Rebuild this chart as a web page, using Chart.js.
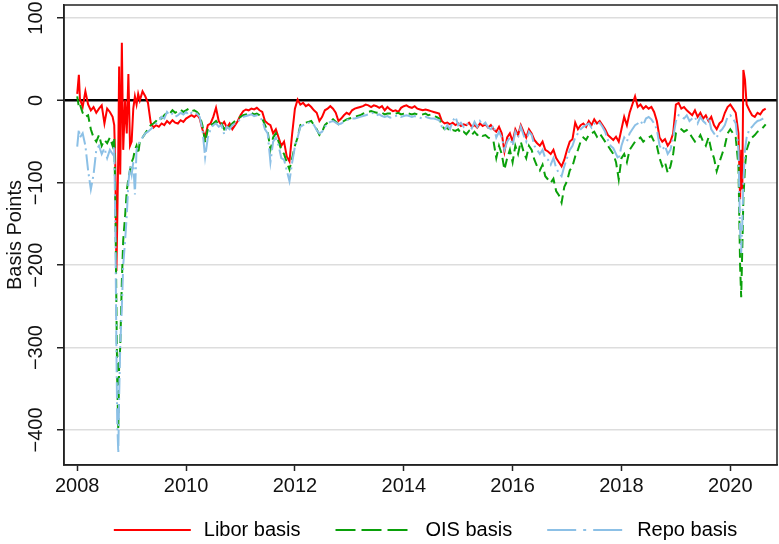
<!DOCTYPE html>
<html><head><meta charset="utf-8">
<script src="https://cdn.jsdelivr.net/npm/chart.js@4/dist/chart.umd.min.js"></script>
<style>html,body{margin:0;padding:0;background:#fff}</style>
</head><body>
<canvas id="c" width="779" height="544"></canvas>
<script>
// ---- data (decimal years) ----
const dates = [
2008.00,2008.03,2008.05,2008.10,2008.15,2008.20,2008.25,2008.30,2008.35,2008.40,2008.45,2008.50,2008.55,2008.60,2008.65,
2008.68,2008.70,2008.72,2008.735,2008.755,2008.77,2008.79,2008.82,2008.845,2008.88,2008.91,2008.94,2008.97,2009.00,2009.03,2009.06,2009.09,2009.12,2009.15,2009.20,2009.25,2009.30,2009.35,
2009.40,2009.45,2009.50,2009.55,2009.60,2009.65,2009.70,2009.75,2009.80,2009.85,2009.90,2009.95,
2010.00,2010.05,2010.10,2010.15,2010.20,2010.25,2010.30,2010.35,2010.40,2010.45,2010.50,2010.55,2010.60,2010.65,2010.70,2010.75,2010.80,2010.85,2010.90,2010.95,2011.00,
2011.05,2011.10,2011.15,2011.20,2011.25,2011.30,2011.35,2011.40,2011.45,2011.50,2011.55,2011.60,2011.65,2011.70,2011.75,2011.80,2011.85,2011.90,2011.95,2012.00,
2012.05,2012.10,2012.15,2012.20,2012.25,2012.30,2012.35,2012.40,2012.45,2012.50,2012.55,2012.60,2012.65,2012.70,2012.75,2012.80,2012.85,2012.90,2012.95,2013.00,
2013.05,2013.10,2013.15,2013.20,2013.25,2013.30,2013.35,2013.40,2013.45,2013.50,2013.55,2013.60,2013.65,2013.70,2013.75,2013.80,2013.85,2013.90,2013.95,2014.00,
2014.05,2014.10,2014.15,2014.20,2014.25,2014.30,2014.35,2014.40,2014.45,2014.50,2014.55,2014.60,2014.65,2014.70,2014.75,2014.80,2014.85,2014.90,2014.95,2015.00,
2015.05,2015.10,2015.15,2015.20,2015.25,2015.30,2015.35,2015.40,2015.45,2015.50,2015.55,2015.60,2015.65,2015.70,2015.75,2015.80,2015.85,2015.90,2015.95,2016.00,
2016.05,2016.10,2016.15,2016.20,2016.25,2016.30,2016.35,2016.40,2016.45,2016.50,2016.55,2016.60,2016.65,2016.70,2016.75,2016.80,2016.85,2016.90,2016.95,2017.00,
2017.05,2017.10,2017.15,2017.20,2017.25,2017.30,2017.35,2017.40,2017.45,2017.50,2017.55,2017.60,2017.65,2017.70,2017.75,2017.80,2017.85,2017.90,2017.95,2018.00,
2018.05,2018.10,2018.15,2018.20,2018.25,2018.30,2018.35,2018.40,2018.45,2018.50,2018.55,2018.60,2018.65,2018.70,2018.75,2018.80,2018.85,2018.90,2018.95,2019.00,
2019.05,2019.10,2019.15,2019.20,2019.25,2019.30,2019.35,2019.40,2019.45,2019.50,2019.55,2019.60,2019.65,2019.70,2019.75,2019.80,2019.85,2019.90,2019.95,2020.00,2020.05,2020.10,
2020.15,2020.18,2020.20,2020.22,2020.24,2020.27,2020.30,2020.35,2020.40,2020.45,2020.50,2020.55,2020.60,2020.65
];
const libor = [
8,31,2,-8,11,-5,-12,-8,-15,-10,-6,-28,-10,-14,-20,
-30,-80,-207,-150,-60,41,-90,70,-60,0,-40,32,-55,-50,-10,5,-5,8,0,11,5,-3,-27,
-33,-30,-32,-28,-30,-25,-28,-24,-27,-28,-24,-26,
-22,-20,-18,-20,-17,-22,-35,-45,-30,-28,-20,-9,-25,-30,-26,-33,-28,-35,-30,-25,-18,
-13,-11,-12,-10,-11,-9,-12,-14,-25,-28,-30,-40,-35,-45,-55,-50,-68,-74,-40,-10,
1,-5,-3,-7,-5,-8,-12,-15,-25,-20,-12,-10,-7,-10,-15,-25,-22,-18,-15,-17,
-12,-10,-9,-8,-7,-5,-6,-8,-6,-7,-9,-7,-12,-8,-11,-13,-12,-14,-9,-7,
-6,-8,-9,-7,-10,-11,-12,-11,-12,-13,-14,-15,-16,-25,-28,-27,-29,-27,-30,-28,
-31,-29,-30,-27,-32,-30,-33,-28,-31,-29,-33,-30,-35,-38,-32,-40,-62,-45,-40,-50,
-35,-42,-30,-38,-45,-35,-40,-48,-52,-55,-50,-60,-62,-65,-60,-70,-75,-80,-72,-60,
-50,-47,-27,-35,-30,-28,-32,-25,-30,-23,-28,-25,-30,-35,-42,-45,-48,-44,-50,-35,
-20,-30,-15,-5,5,-8,-5,-10,-7,-10,-8,-14,-25,-45,-50,-47,-55,-50,-40,-5,
-3,-10,-8,-12,-15,-18,-12,-20,-15,-22,-18,-25,-20,-30,-35,-28,-25,-15,-8,-5,-10,-15,
-40,-120,-60,-108,37,25,-5,-12,-18,-20,-15,-17,-12,-10
];
const ois = [
5,-8,-5,-15,-20,-18,-35,-45,-50,-42,-55,-48,-52,-45,-55,
-45,-120,-250,-340,-400,-320,-300,-220,-170,-140,-110,-95,-85,-75,-70,-60,-55,-65,-50,-45,-40,-35,-30,
-28,-25,-20,-22,-18,-15,-16,-12,-15,-13,-11,-14,
-12,-10,-13,-12,-14,-18,-30,-51,-35,-30,-28,-25,-30,-28,-35,-30,-32,-28,-25,-22,-20,
-18,-17,-16,-15,-17,-16,-18,-22,-30,-38,-60,-45,-40,-50,-60,-65,-75,-84,-70,-55,
-45,-30,-28,-27,-26,-25,-30,-35,-42,-38,-30,-27,-25,-23,-26,-29,-27,-25,-23,-22,
-21,-20,-19,-18,-16,-15,-14,-13,-14,-15,-14,-15,-17,-16,-16,-17,-16,-15,-17,-16,
-15,-16,-17,-16,-17,-18,-17,-16,-18,-17,-19,-20,-22,-30,-35,-33,-38,-36,-37,-35,
-40,-38,-41,-37,-42,-38,-42,-40,-43,-42,-45,-47,-50,-70,-55,-65,-84,-70,-60,-75,
-55,-65,-50,-62,-70,-55,-60,-72,-80,-85,-78,-92,-96,-100,-95,-110,-115,-124,-105,-98,
-85,-80,-68,-60,-50,-45,-48,-42,-40,-38,-44,-40,-45,-50,-55,-60,-65,-75,-96,-70,
-65,-75,-60,-55,-50,-48,-45,-50,-47,-45,-43,-50,-55,-70,-80,-75,-88,-80,-65,-40,
-37,-35,-38,-36,-40,-45,-50,-48,-42,-50,-55,-45,-60,-70,-86,-75,-65,-55,-40,-35,-40,-45,
-80,-200,-239,-180,-120,-80,-60,-50,-45,-42,-38,-36,-33,-29
];
const repo = [
-56,-35,-45,-40,-55,-85,-108,-90,-60,-55,-65,-58,-70,-60,-65,
-55,-150,-300,-390,-428,-360,-300,-250,-200,-170,-140,-100,-80,-90,-75,-114,-60,-55,-50,-45,-40,-38,-35,
-32,-28,-25,-20,-22,-14,-18,-16,-20,-18,-15,-17,
-14,-18,-15,-17,-16,-20,-35,-69,-45,-35,-30,-28,-32,-30,-41,-32,-35,-30,-28,-26,-22,
-20,-19,-18,-17,-19,-18,-20,-24,-35,-40,-75,-50,-45,-55,-70,-72,-85,-98,-75,-56,
-45,-32,-30,-29,-27,-27,-30,-36,-40,-38,-32,-28,-26,-25,-27,-29,-28,-26,-24,-23,
-22,-22,-21,-20,-19,-18,-17,-16,-15,-18,-17,-19,-20,-19,-21,-20,-19,-18,-20,-19,
-18,-19,-20,-19,-20,-21,-22,-20,-21,-22,-22,-23,-24,-32,-36,-30,-35,-25,-20,-30,
-27,-32,-28,-30,-34,-26,-32,-25,-30,-27,-33,-35,-30,-45,-38,-45,-60,-50,-45,-55,
-38,-45,-32,-42,-50,-38,-42,-55,-60,-65,-60,-70,-72,-78,-70,-82,-88,-92,-80,-70,
-60,-55,-45,-40,-35,-32,-30,-28,-33,-28,-30,-27,-32,-38,-48,-55,-58,-65,-72,-55,
-45,-50,-40,-35,-30,-28,-25,-30,-22,-20,-23,-28,-35,-55,-60,-55,-65,-60,-45,-25,
-18,-20,-22,-18,-25,-22,-20,-28,-20,-25,-28,-20,-35,-40,-45,-38,-35,-30,-20,-18,-22,-28,
-60,-160,-185,-150,-100,-60,-45,-35,-32,-28,-25,-24,-22,-20
];
const seriesNames = ['Libor basis', 'OIS basis', 'Repo basis'];
const xTicks = [2008, 2010, 2012, 2014, 2016, 2018, 2020];
const yTicks = [100, 0, -100, -200, -300, -400];

if (libor.length !== dates.length || ois.length !== dates.length || repo.length !== dates.length) {
  throw new Error('length mismatch ' + dates.length + ' ' + libor.length + ' ' + ois.length + ' ' + repo.length);
}

// ---- styles ----
const colors = ['#FF0000', '#0AA00A', '#8CC0E6'];
const lineDashes = [[], [9, 5], [16, 4, 2, 4]];
const legendDashes = [[], [20, 6], [29, 7, 3, 7]];
const FONT = "'Liberation Sans', Arial, Helvetica, sans-serif";
const TXT = '#111';

Chart.defaults.font.family = FONT;
Chart.defaults.font.size = 20;
Chart.defaults.color = TXT;

// legend key: 10px lead space, 77px line sample, 3px trailing space
const KEY_LEAD = 10, KEY_LINE = 77, KEY_TAIL = 3;
function legendKey(color, dash) {
  const c = document.createElement('canvas');
  c.width = KEY_LEAD + KEY_LINE + KEY_TAIL;
  c.height = 8;
  const g = c.getContext('2d');
  g.strokeStyle = color;
  g.lineWidth = 2;
  g.setLineDash(dash);
  g.beginPath();
  g.moveTo(KEY_LEAD, 4);
  g.lineTo(KEY_LEAD + KEY_LINE, 4);
  g.stroke();
  return c;
}

const pts = arr => dates.map((d, i) => ({x: d, y: arr[i]}));
const values = [libor, ois, repo];
const drawOrder = [2, 1, 0]; // repo drawn on top

const frame = {
  id: 'frame',
  afterDraw(chart) {
    const {ctx, chartArea: a} = chart;
    ctx.save();
    ctx.strokeStyle = '#222';
    ctx.lineWidth = 1.5;
    ctx.strokeRect(a.left, a.top, a.right - a.left, a.bottom - a.top);
    ctx.restore();
  }
};

new Chart(document.getElementById('c'), {
  type: 'line',
  data: {
    datasets: seriesNames.map((name, i) => ({
      label: name,
      data: pts(values[i]),
      borderColor: colors[i],
      backgroundColor: colors[i],
      borderWidth: 2,
      borderDash: lineDashes[i],
      pointRadius: 0,
      tension: 0,
      fill: false,
      order: drawOrder[i]
    }))
  },
  options: {
    responsive: false,
    animation: false,
    devicePixelRatio: 1,
    layout: {padding: {top: 5, right: 2, left: 0, bottom: -6}},
    plugins: {
      tooltip: {enabled: false},
      legend: {
        position: 'bottom',
        fullSize: false,
        labels: {
          usePointStyle: true,
          pointStyleWidth: KEY_LEAD + KEY_LINE + KEY_TAIL,
          padding: 25,
          font: {size: 20},
          color: TXT,
          generateLabels: chart => chart.data.datasets.map((ds, i) => ({
            text: ds.label,
            strokeStyle: ds.borderColor,
            fillStyle: ds.borderColor,
            lineWidth: 0,
            pointStyle: legendKey(ds.borderColor, legendDashes[i]),
            hidden: false,
            datasetIndex: i
          }))
        }
      }
    },
    scales: {
      x: {
        type: 'linear',
        min: 2007.757,
        max: 2020.858,
        afterBuildTicks: s => { s.ticks = xTicks.map(v => ({value: v})); },
        afterFit: s => { s.height = 30; },
        ticks: {autoSkip: false, maxRotation: 0, padding: 3, color: TXT, font: {size: 20},
                callback: v => String(v)},
        grid: {drawOnChartArea: false, drawTicks: true, tickLength: 6, tickColor: '#222', tickWidth: 1.5},
        border: {display: true, color: '#222', width: 1.5}
      },
      y: {
        type: 'linear',
        min: -442.5,
        max: 115.8,
        afterBuildTicks: s => { s.ticks = yTicks.map(v => ({value: v})); },
        afterFit: s => { s.width = 64; },
        ticks: {autoSkip: false, minRotation: 90, maxRotation: 90, crossAlign: 'center', padding: -2,
                color: TXT, font: {size: 20, lineHeight: 0.4},
                callback: v => v < 0 ? '\u2212' + Math.abs(v) : String(v)},
        grid: {
          color: c => (c.tick && c.tick.value === 0) ? '#000000' : '#DDDDDD',
          lineWidth: c => (c.tick && c.tick.value === 0) ? 2.5 : 1.5,
          drawTicks: true, tickLength: 7, tickColor: '#222', tickWidth: 1.5
        },
        border: {display: true, color: '#222', width: 1.5},
        title: {display: true, text: 'Basis Points', color: TXT, font: {size: 20}, padding: {top: 3, bottom: 0}}
      }
    }
  },
  plugins: [frame]
});
</script>
</body></html>
